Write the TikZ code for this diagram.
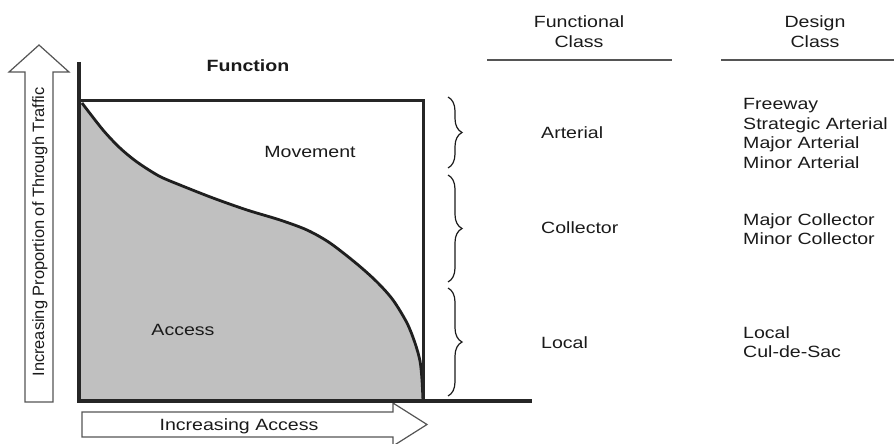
\documentclass[tikz,border=0pt]{standalone}
\usepackage{fontspec}
\setmainfont{Liberation Sans}[FakeStretch=1.2]
\newfontfamily\plainsans{Liberation Sans}
\usetikzlibrary{decorations.pathreplacing}
\definecolor{txt}{HTML}{1A1A1A}
\definecolor{areagray}{HTML}{C0C0C0}
\definecolor{outl}{HTML}{555555}
\tikzset{
  lbl/.style={inner sep=0pt, text=txt, font=\fontsize{16.3}{19.6}\selectfont, anchor=base west},
  clbl/.style={lbl, anchor=base},
  bracestyle/.style={decorate, decoration={brace, amplitude=14pt}, line width=1.2pt, draw=txt},
  bigarrow/.style={draw=outl, line width=1.2pt, fill=white},
  axis/.style={line width=4.5pt, draw=black!85},
  hdrline/.style={draw=outl, line width=1.6pt}
}
\begin{document}
\begin{tikzpicture}[x=1pt, y=-1pt]
\useasboundingbox (0,0) rectangle (894,444);
% up arrow
\draw[bigarrow] (25,402) -- (25,72) -- (9,72) -- (39,45) -- (69,72) -- (53,72) -- (53,402) -- cycle;
\node[inner sep=0pt, text=txt, rotate=90, font=\plainsans\fontsize{16.4}{19}\selectfont] (ylab) at (40,232) {Increasing Proportion of Through Traffic};
% right arrow
\draw[bigarrow] (82,412) -- (393,412) -- (393,403) -- (427,424.5) -- (393,446) -- (393,437) -- (82,437) -- cycle;
\node[clbl] (xlab) at (239,430) {Increasing Access};
% filled area
\def\curvepts{(82,103) (103,130) (120,148) (137,162) (159,176) (180,185) (213,198) (247,210) (280,220) (307,230) (330,243) (357,264) (377,282) (393,300) (407,323) (415,343) (420,361) (422,380) (423,401)}
\fill[areagray] (79,100) -- plot[smooth, tension=0.5] coordinates {\curvepts} -- (79,401) -- cycle;
\draw[line width=2.8pt, black!88] plot[smooth, tension=0.5] coordinates {\curvepts};
% box
\draw[line width=3pt, black!85] (79,100) -- (423,100) -- (423,401);
% axes
\draw[axis] (79,62) -- (79,401);
\draw[axis] (77,401) -- (532,401);
% labels inside
\node[clbl, font=\bfseries\fontsize{16.3}{19.6}\selectfont] (func) at (248,72) {Function};
\node[clbl] (move) at (310,157) {Movement};
\node[clbl] (acc) at (183,335) {Access};
% braces
\draw[bracestyle] (448,97) -- (448,168);
\draw[bracestyle] (448,175) -- (448,282);
\draw[bracestyle] (448,288) -- (448,396);
% headers
\node[clbl] (fc1) at (579,28) {Functional};
\node[clbl] (fc2) at (579,48) {Class};
\node[clbl] (dc1) at (815,28) {Design};
\node[clbl] (dc2) at (815,48) {Class};
\draw[hdrline] (487,60) -- (672,60);
\draw[hdrline] (721,60) -- (894,60);
% functional classes
\node[lbl] (art) at (541,138) {Arterial};
\node[lbl] (col) at (541,233) {Collector};
\node[lbl] (loc) at (541,348) {Local};
% design classes
\node[lbl] (d1) at (743,110) {Freeway};
\node[lbl] (d2) at (743,129) {Strategic Arterial};
\node[lbl] (d3) at (743,148.5) {Major Arterial};
\node[lbl] (d4) at (743,168) {Minor Arterial};
\node[lbl] (d5) at (743,225) {Major Collector};
\node[lbl] (d6) at (743,244) {Minor Collector};
\node[lbl] (d7) at (743,338) {Local};
\node[lbl] (d8) at (743,357) {Cul-de-Sac};
\end{tikzpicture}
\end{document}
